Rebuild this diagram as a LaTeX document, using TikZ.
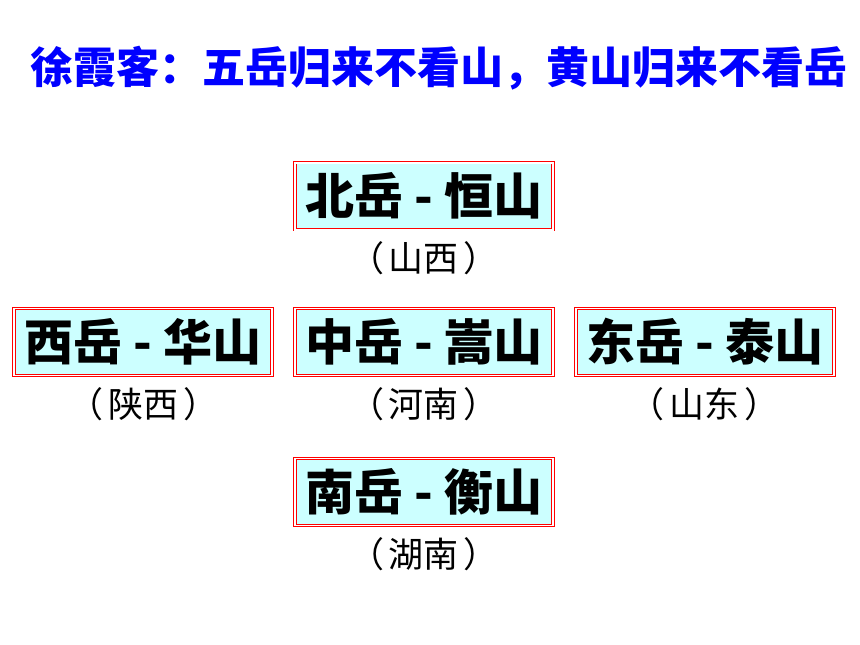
\documentclass[tikz,border=0pt]{standalone}
\usepackage{fontspec}
\newfontfamily\cjk{Noto Sans CJK SC}
\usetikzlibrary{positioning}
\definecolor{boxcyan}{RGB}{204,255,255}
\definecolor{boxred}{RGB}{255,0,0}
\definecolor{titleblue}{RGB}{0,0,255}
\newcommand\paren[1]{（\hspace{5pt}#1\hspace{5pt}）}

\begin{document}
\begin{tikzpicture}[x=1pt,y=-1pt,node distance=78pt and 22pt,
                mount/.style={rectangle,draw=boxred,line width=0.9pt,double=white,double distance=1.8pt,
                  fill=boxcyan,minimum width=258pt,minimum height=67pt,inner sep=0pt,
                  font=\cjk\bfseries\fontsize{49}{52}\selectfont},
                place/.style={font=\cjk\fontsize{35}{40}\selectfont,inner sep=0pt}]
                \useasboundingbox (0,0) rectangle (860,645);
                \node[font=\cjk\bfseries\fontsize{43}{50}\selectfont,text=titleblue] (title) at (439,68)
                  {徐霞客：五岳归来不看山，黄山归来不看岳};
                \node[mount] (mid) at (424,342) {中岳 - 嵩山};
                \node[mount] (north) [above=of mid] {北岳 - 恒山};
                \node[mount] (west) [left=of mid] {西岳 - 华山};
                \node[mount] (east) [right=of mid] {东岳 - 泰山};
                \node[mount] (south) [below=82pt of mid] {南岳 - 衡山};
                
                \node[place] (northp) [below=11pt of north] {\paren{山西}};
                \node[place] (westp) [below=11pt of west] {\paren{陕西}};
                \node[place] (midp) [below=11pt of mid] {\paren{河南}};
                \node[place] (eastp) [below=11pt of east] {\paren{山东}};
                \node[place] (southp) [below=11pt of south] {\paren{湖南}};
                \end{tikzpicture}
\end{document}
